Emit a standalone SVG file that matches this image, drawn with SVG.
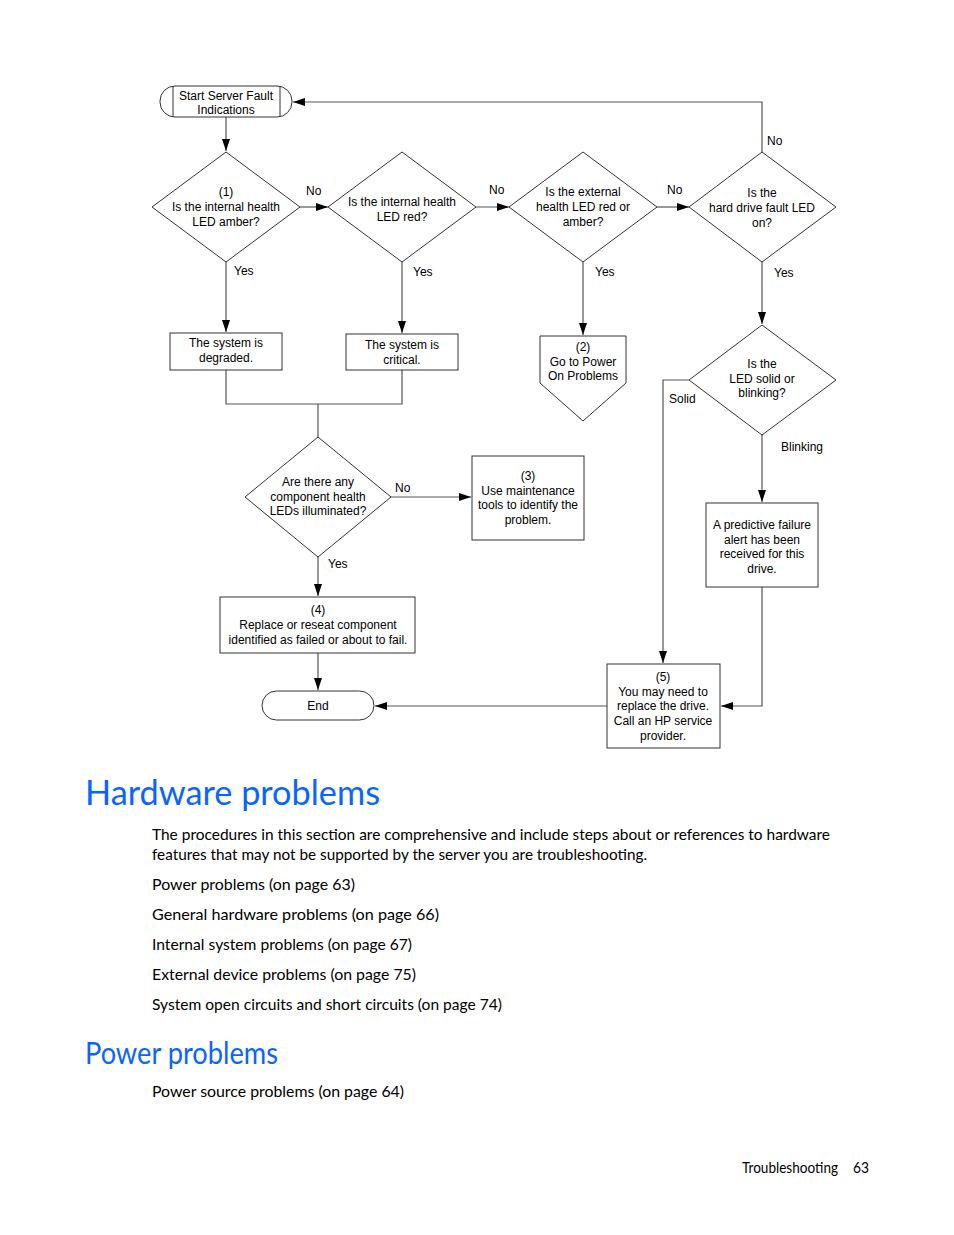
<svg xmlns="http://www.w3.org/2000/svg" width="954" height="1235" viewBox="0 0 954 1235">
<defs>
<marker id="arr" markerWidth="12" markerHeight="8" refX="12" refY="4" orient="auto" markerUnits="userSpaceOnUse">
<path d="M0,0 L12,4 L0,8 Z" fill="#000"/>
</marker>
<style>
.sh{fill:#fff;stroke:#333;stroke-width:1}
.ln{fill:none;stroke:#555;stroke-width:1.2}
.t{font-family:"Liberation Sans",Arial,sans-serif;font-size:12px;fill:#000;text-anchor:middle}
.lb{font-family:"Liberation Sans",Arial,sans-serif;font-size:12px;fill:#000}
.h{font-family:"Lato","Liberation Sans",sans-serif;fill:#0a64ff}
.b{font-family:"Lato","Liberation Sans",sans-serif;font-size:16px;fill:#000}
</style>
</defs>
<rect width="954" height="1235" fill="#fff"/>

<g id="connectors">
<path class="ln" d="M226,117 V151" marker-end="url(#arr)"/>
<path class="ln" d="M300,207 H328" marker-end="url(#arr)"/>
<path class="ln" d="M476,207 H509" marker-end="url(#arr)"/>
<path class="ln" d="M657,207 H689" marker-end="url(#arr)"/>
<path class="ln" d="M762,152 V102 H293" marker-end="url(#arr)"/>
<path class="ln" d="M226,262 V332" marker-end="url(#arr)"/>
<path class="ln" d="M402,262 V333" marker-end="url(#arr)"/>
<path class="ln" d="M583,262 V335" marker-end="url(#arr)"/>
<path class="ln" d="M762,262 V324" marker-end="url(#arr)"/>
<path class="ln" d="M689,380 H663 V663" marker-end="url(#arr)"/>
<path class="ln" d="M762,435 V502" marker-end="url(#arr)"/>
<path class="ln" d="M762,587 V706 H721" marker-end="url(#arr)"/>
<path class="ln" d="M607,706 H375" marker-end="url(#arr)"/>
<path class="ln" d="M226,370 V404 H402 V370 M318,404 V437"/>
<path class="ln" d="M391,497 H471" marker-end="url(#arr)"/>
<path class="ln" d="M318,557 V596" marker-end="url(#arr)"/>
<path class="ln" d="M318,653 V690" marker-end="url(#arr)"/>
<text class="lb" x="306" y="195">No</text>
<text class="lb" x="489" y="194">No</text>
<text class="lb" x="667" y="194">No</text>
<text class="lb" x="767" y="145">No</text>
<text class="lb" x="234" y="275">Yes</text>
<text class="lb" x="413" y="276">Yes</text>
<text class="lb" x="595" y="276">Yes</text>
<text class="lb" x="774" y="277">Yes</text>
<text class="lb" x="669" y="403">Solid</text>
<text class="lb" x="781" y="451">Blinking</text>
<text class="lb" x="395" y="492">No</text>
<text class="lb" x="328" y="568">Yes</text>
</g>

<g id="start">
<rect class="sh" x="160" y="86" width="132" height="31" rx="15" ry="15"/>
<path class="sh" d="M173,86 V117 M280,86 V117"/>
<text class="t" x="226" y="100">Start Server Fault</text>
<text class="t" x="226" y="114">Indications</text>
</g>

<g id="d1">
<polygon class="sh" points="226,152 300,207 226,262 152,207"/>
<text class="t" x="226" y="196">(1)</text>
<text class="t" x="226" y="211">Is the internal health</text>
<text class="t" x="226" y="226">LED amber?</text>
</g>

<g id="d2">
<polygon class="sh" points="402,152 476,207 402,262 328,207"/>
<text class="t" x="402" y="206">Is the internal health</text>
<text class="t" x="402" y="221">LED red?</text>
</g>

<g id="d3">
<polygon class="sh" points="583,152 657,207 583,262 509,207"/>
<text class="t" x="583" y="196">Is the external</text>
<text class="t" x="583" y="211">health LED red or</text>
<text class="t" x="583" y="226">amber?</text>
</g>

<g id="d4">
<polygon class="sh" points="762,152 836,207 762,262 689,207"/>
<text class="t" x="762" y="197">Is the</text>
<text class="t" x="762" y="212">hard drive fault LED</text>
<text class="t" x="762" y="227">on?</text>
</g>

<g id="degraded">
<rect class="sh" x="170" y="333" width="112" height="37"/>
<text class="t" x="226" y="347">The system is</text>
<text class="t" x="226" y="362">degraded.</text>
</g>

<g id="critical">
<rect class="sh" x="346" y="334" width="112" height="36"/>
<text class="t" x="402" y="349">The system is</text>
<text class="t" x="402" y="364">critical.</text>
</g>

<g id="power-on">
<polygon class="sh" points="540,336 626,336 626,383 583,421 540,383"/>
<text class="t" x="583" y="351">(2)</text>
<text class="t" x="583" y="366">Go to Power</text>
<text class="t" x="583" y="380">On Problems</text>
</g>

<g id="d5">
<polygon class="sh" points="762,325 836,380 762,435 689,380"/>
<text class="t" x="762" y="368">Is the</text>
<text class="t" x="762" y="383">LED solid or</text>
<text class="t" x="762" y="397">blinking?</text>
</g>

<g id="predictive">
<rect class="sh" x="706" y="503" width="112" height="84"/>
<text class="t" x="762" y="529">A predictive failure</text>
<text class="t" x="762" y="544">alert has been</text>
<text class="t" x="762" y="558">received for this</text>
<text class="t" x="762" y="573">drive.</text>
</g>

<g id="d6">
<polygon class="sh" points="318,437 391,497 318,557 245,497"/>
<text class="t" x="318" y="486">Are there any</text>
<text class="t" x="318" y="501">component health</text>
<text class="t" x="318" y="515">LEDs illuminated?</text>
</g>

<g id="maintenance">
<rect class="sh" x="472" y="456" width="112" height="84"/>
<text class="t" x="528" y="480">(3)</text>
<text class="t" x="528" y="495">Use maintenance</text>
<text class="t" x="528" y="509">tools to identify the</text>
<text class="t" x="528" y="524">problem.</text>
</g>

<g id="replace">
<rect class="sh" x="220" y="597" width="195" height="56"/>
<text class="t" x="318" y="614">(4)</text>
<text class="t" x="318" y="629">Replace or reseat component</text>
<text class="t" x="318" y="644">identified as failed or about to fail.</text>
</g>

<g id="end">
<rect class="sh" x="262" y="691" width="112" height="29" rx="14.5" ry="14.5"/>
<text class="t" x="318" y="710">End</text>
</g>

<g id="replace-drive">
<rect class="sh" x="607" y="664" width="113" height="84"/>
<text class="t" x="663" y="681">(5)</text>
<text class="t" x="663" y="696">You may need to</text>
<text class="t" x="663" y="710">replace the drive.</text>
<text class="t" x="663" y="725">Call an HP service</text>
<text class="t" x="663" y="740">provider.</text>
</g>

<g id="page-text">
<text class="h" x="85" y="805" font-size="35" textLength="295" lengthAdjust="spacingAndGlyphs">Hardware problems</text>
<text class="b" x="152" y="840" textLength="678" lengthAdjust="spacingAndGlyphs">The procedures in this section are comprehensive and include steps about or references to hardware</text>
<text class="b" x="152" y="860" textLength="495" lengthAdjust="spacingAndGlyphs">features that may not be supported by the server you are troubleshooting.</text>
<text class="b" x="152" y="890" textLength="203" lengthAdjust="spacingAndGlyphs">Power problems (on page 63)</text>
<text class="b" x="152" y="920" textLength="287" lengthAdjust="spacingAndGlyphs">General hardware problems (on page 66)</text>
<text class="b" x="152" y="950" textLength="260" lengthAdjust="spacingAndGlyphs">Internal system problems (on page 67)</text>
<text class="b" x="152" y="980" textLength="264" lengthAdjust="spacingAndGlyphs">External device problems (on page 75)</text>
<text class="b" x="152" y="1010" textLength="350" lengthAdjust="spacingAndGlyphs">System open circuits and short circuits (on page 74)</text>
<text class="h" x="85" y="1064" font-size="30" textLength="193" lengthAdjust="spacingAndGlyphs">Power problems</text>
<text class="b" x="152" y="1097" textLength="252" lengthAdjust="spacingAndGlyphs">Power source problems (on page 64)</text>
<text class="b" x="742" y="1173" font-size="14" textLength="96" lengthAdjust="spacingAndGlyphs">Troubleshooting</text>
<text class="b" x="853" y="1173" font-size="14" textLength="16" lengthAdjust="spacingAndGlyphs">63</text>
</g>
</svg>
